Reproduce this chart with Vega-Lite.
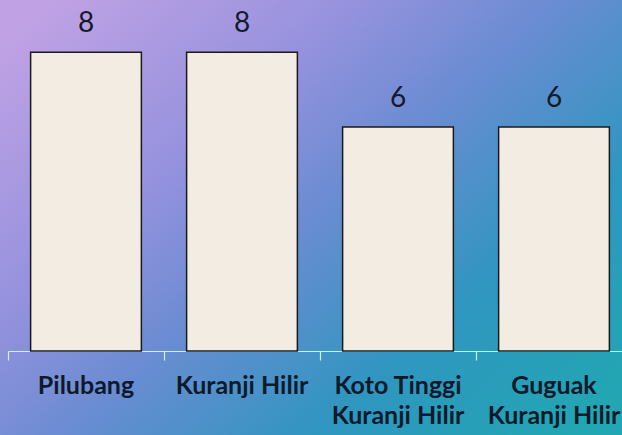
{
  "$schema": "https://vega.github.io/schema/vega-lite/v6.json",
  "width": 622,
  "height": 435,
  "autosize": {"type": "none"},
  "padding": 0,
  "background": "#7f98d8",
  "config": {
    "view": {
      "stroke": null,
      "fill": {
        "gradient": "linear",
        "x1": 0, "y1": 0.1, "x2": 1, "y2": 0.9,
        "stops": [
          {"offset": 0, "color": "#c0a2e4"},
          {"offset": 0.3, "color": "#9692de"},
          {"offset": 0.5, "color": "#6a8cd2"},
          {"offset": 0.75, "color": "#2f96c0"},
          {"offset": 1, "color": "#22a6b2"}
        ]
      }
    }
  },
  "data": {
    "values": [
      {"desa": "Pilubang", "jumlah": 8},
      {"desa": "Kuranji Hilir", "jumlah": 8},
      {"desa": "Koto Tinggi Kuranji Hilir", "jumlah": 6},
      {"desa": "Guguak Kuranji Hilir", "jumlah": 6}
    ]
  },
  "encoding": {
    "x": {
      "field": "desa",
      "type": "nominal",
      "sort": null,
      "scale": {"range": [8, 632], "paddingInner": 0, "paddingOuter": 0},
      "axis": {
        "title": null,
        "orient": "bottom",
        "offset": -84,
        "labelAngle": 0,
        "bandPosition": 0,
        "domainColor": "#d8eef8",
        "domainWidth": 1.2,
        "tickColor": "#d8eef8",
        "tickSize": 9,
        "tickWidth": 1.2,
        "labelFont": "Lato",
        "labelFontWeight": "bold",
        "labelFontSize": 25,
        "labelColor": "#0c1a2c",
        "labelPadding": 13,
        "labelLineHeight": 30,
        "labelBaseline": "top",
        "labelOverlap": false,
        "labelExpr": "datum.value == 'Koto Tinggi Kuranji Hilir' ? ['Koto Tinggi', 'Kuranji Hilir'] : datum.value == 'Guguak Kuranji Hilir' ? ['Guguak', 'Kuranji Hilir'] : datum.value"
      }
    },
    "y": {
      "field": "jumlah",
      "type": "quantitative",
      "scale": {"domain": [0, 9], "range": [351, 15], "nice": false, "zero": true},
      "axis": null
    }
  },
  "layer": [
    {
      "mark": {"type": "bar", "width": {"band": 0.71}, "fill": "#f3ece2", "stroke": "#1a1a1a", "strokeWidth": 1.5}
    },
    {
      "mark": {"type": "text", "font": "Lato", "fontSize": 28, "color": "#141a2a", "baseline": "bottom", "dy": -14},
      "encoding": {"text": {"field": "jumlah", "type": "quantitative"}}
    }
  ]
}
